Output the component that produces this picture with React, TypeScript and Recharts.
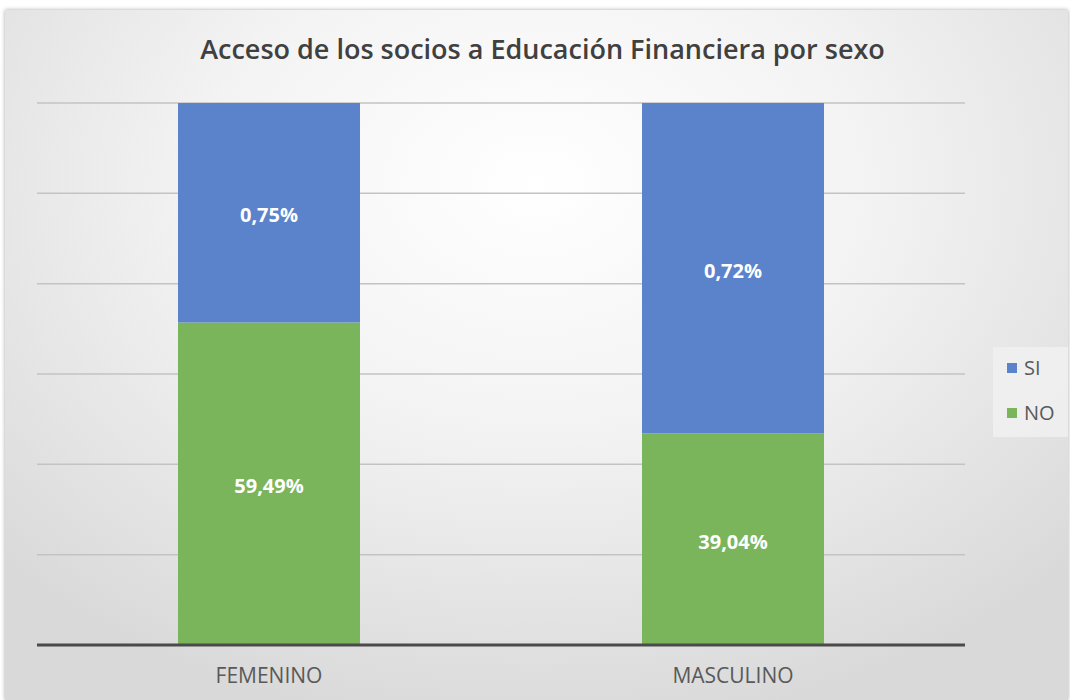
import { BarChart, Bar, XAxis, YAxis, CartesianGrid, LabelList } from "recharts";

// categories and series (100% stacked)
const categories = ["FEMENINO", "MASCULINO"];
const noValues = [59.49, 39.04];
const siValues = [40.51, 60.96];

// label texts as shown on the bars
const noLabels = ["59,49%", "39,04%"];
const siLabels = ["0,75%", "0,72%"];

const gridTicks = [0, 16.67, 33.33, 50, 66.67, 83.33, 100];

const BLUE = "#5b83cb";
const GREEN = "#7ab55c";
const FONT = "'Open Sans', Lato, sans-serif";

const data = categories.map((c, i) => ({
  name: c,
  NO: noValues[i],
  SI: siValues[i],
  noLabel: noLabels[i],
  siLabel: siLabels[i],
}));

const BarText = (props: any) => {
  const { x, y, width, height, value } = props;
  return (
    <text
      x={x + width / 2}
      y={y + height / 2 + 2}
      textAnchor="middle"
      dominantBaseline="central"
      fill="#ffffff"
      fontSize={20}
      fontWeight={700}
      fontFamily={FONT}
    >
      {value}
    </text>
  );
};

export default function App() {
  return (
    <div style={{ position: "relative", width: 1070, height: 700, background: "#ffffff" }}>
      <style>{"body{margin:0}"}</style>
      <div
        style={{
          position: "absolute",
          left: 5,
          top: 10,
          width: 1063,
          height: 690,
          background:
            "radial-gradient(ellipse 70% 80% at 50% 25%, #ffffff 0%, #f3f3f3 45%, #d9d9d9 100%)",
          boxShadow: "0 0 4px rgba(0,0,0,0.35)",
        }}
      />
      <div
        style={{
          position: "absolute",
          left: 0,
          top: 31,
          width: 1085,
          textAlign: "center",
          fontFamily: FONT,
          fontSize: 27,
          fontWeight: 600,
          color: "#404040",
          lineHeight: 1.362,
        }}
      >
        Acceso de los socios a Educación Financiera por sexo
      </div>
      <div style={{ position: "absolute", left: 0, top: 0 }}>
        <BarChart
          width={1070}
          height={700}
          data={data}
          margin={{ top: 103, right: 105, bottom: 10, left: 37 }}
        >
          <CartesianGrid vertical={false} stroke="#c3c3c3" strokeWidth={1.5} />
          <XAxis
            dataKey="name"
            height={45}
            axisLine={{ stroke: "#4a4a4a", strokeWidth: 3 }}
            tickLine={false}
            tickMargin={17}
            tick={{ fill: "#595959", fontSize: 21, fontFamily: FONT }}
          />
          <YAxis hide domain={[0, 100]} ticks={gridTicks} />
          <Bar dataKey="NO" stackId="a" fill={GREEN} barSize={182} isAnimationActive={false}>
            <LabelList dataKey="noLabel" content={BarText} />
          </Bar>
          <Bar dataKey="SI" stackId="a" fill={BLUE} barSize={182} isAnimationActive={false}>
            <LabelList dataKey="siLabel" content={BarText} />
          </Bar>
        </BarChart>
      </div>
      <div
        style={{
          position: "absolute",
          left: 993,
          top: 347,
          width: 75,
          height: 90,
          background: "rgba(240,240,240,0.9)",
          fontFamily: FONT,
          fontSize: 20,
          color: "#595959",
          lineHeight: 1,
        }}
      >
        <div style={{ position: "absolute", left: 14, top: 11, display: "flex", alignItems: "center" }}>
          <span style={{ width: 10, height: 10, background: BLUE, marginRight: 7 }} />
          SI
        </div>
        <div style={{ position: "absolute", left: 14, top: 56, display: "flex", alignItems: "center" }}>
          <span style={{ width: 10, height: 10, background: GREEN, marginRight: 7 }} />
          NO
        </div>
      </div>
    </div>
  );
}
